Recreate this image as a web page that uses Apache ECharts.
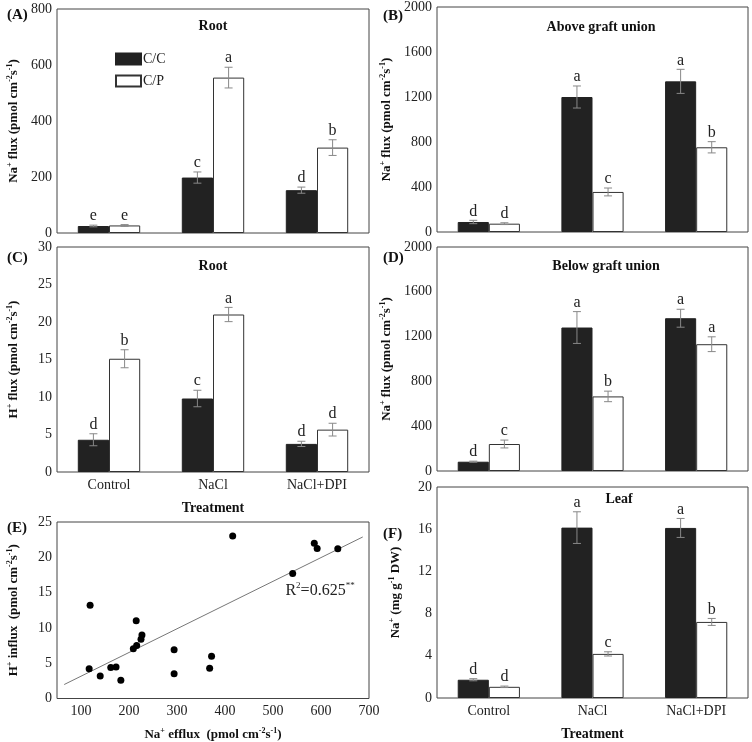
<!DOCTYPE html>
<html>
<head>
<meta charset="utf-8">
<script src="https://cdn.jsdelivr.net/npm/echarts@6/dist/echarts.min.js"></script>
<style>
  html, body { margin: 0; padding: 0; background: #fff; }
  #main { width: 752px; height: 742px; }
</style>
</head>
<body>
<div id="main"></div>
<script>
// categories
const treatments = ['Control', 'NaCl', 'NaCl+DPI'];

// (A) root Na+ flux
const rootNa_CC = [25, 198, 153];
const rootNa_CC_err = [3, 20, 11];
const rootNa_CC_sig = ['e', 'c', 'd'];
const rootNa_CP = [27, 555, 305];
const rootNa_CP_err = [3, 37, 28];
const rootNa_CP_sig = ['e', 'a', 'b'];

// (B) above graft union Na+ flux
const aboveNa_CC = [89, 1200, 1339];
const aboveNa_CC_err = [15, 98, 107];
const aboveNa_CC_sig = ['d', 'a', 'a'];
const aboveNa_CP = [74, 356, 753];
const aboveNa_CP_err = [8, 35, 50];
const aboveNa_CP_sig = ['d', 'c', 'b'];

// (C) root H+ flux
const rootH_CC = [4.3, 9.8, 3.75];
const rootH_CC_err = [0.8, 1.1, 0.35];
const rootH_CC_sig = ['d', 'c', 'd'];
const rootH_CP = [15.1, 21.0, 5.65];
const rootH_CP_err = [1.2, 0.95, 0.85];
const rootH_CP_sig = ['b', 'a', 'd'];

// (D) below graft union Na+ flux
const belowNa_CC = [83, 1281, 1364];
const belowNa_CC_err = [5, 142, 80];
const belowNa_CC_sig = ['d', 'a', 'a'];
const belowNa_CP = [241, 666, 1132];
const belowNa_CP_err = [35, 47, 66];
const belowNa_CP_sig = ['c', 'b', 'a'];

// (F) leaf Na+ content
const leafNa_CC = [1.73, 16.15, 16.12];
const leafNa_CC_err = [0.1, 1.5, 0.9];
const leafNa_CC_sig = ['d', 'a', 'a'];
const leafNa_CP = [1.06, 4.18, 7.21];
const leafNa_CP_err = [0.07, 0.2, 0.33];
const leafNa_CP_sig = ['d', 'c', 'b'];

// (E) Na+ efflux vs H+ influx
const naEfflux = [117, 119, 140, 162, 173, 183, 209, 215, 216, 225, 227, 294, 294, 368, 372, 416, 541, 586, 592, 635];
const hInflux = [4.2, 13.2, 3.2, 4.4, 4.45, 2.6, 7.05, 11.0, 7.5, 8.4, 9.0, 6.9, 3.5, 4.3, 6.0, 23.0, 17.7, 22.0, 21.25, 21.2];
const fitLine = [[65, 1.98], [687, 22.88]];

const SERIF = '"Liberation Serif", "Times New Roman", serif';
const DARK = '#222';
const ERR = '#888';

let chart = echarts.init(document.getElementById('main'));

let grids = [
    { left: 57, top: 9, width: 312, height: 224 },    // A
    { left: 437, top: 7, width: 311, height: 225 },   // B
    { left: 57, top: 247, width: 312, height: 225 },  // C
    { left: 437, top: 247, width: 311, height: 224 }, // D
    { left: 57, top: 522, width: 312, height: 182 },  // E
    { left: 437, top: 487, width: 311, height: 219 }  // F
];
grids.forEach(g => {
    g.show = true;
    g.borderColor = '#444';
    g.borderWidth = 1;
    g.containLabel = false;
});

let richName = {
    b: { fontFamily: SERIF, fontWeight: 'bold', fontSize: 13, color: '#111', lineHeight: 16 },
    s: { fontFamily: SERIF, fontWeight: 'bold', fontSize: 8, color: '#111', verticalAlign: 'top', lineHeight: 16 }
};

function plain(v) {
    return String(v);
}

function catAxis(gi, showLabels, name) {
    return {
        type: 'category',
        gridIndex: gi,
        data: treatments,
        axisLine: { show: false },
        axisTick: { show: false },
        axisLabel: { show: showLabels, fontFamily: SERIF, fontSize: 14, color: '#222', margin: 6 },
        name: name || '',
        nameLocation: 'middle',
        nameGap: 29,
        nameTextStyle: { fontFamily: SERIF, fontWeight: 'bold', fontSize: 14, color: '#111' }
    };
}

function valAxis(gi, max, interval, name, nameGap) {
    return {
        type: 'value',
        gridIndex: gi,
        min: 0,
        max: max,
        interval: interval,
        splitLine: { show: false },
        axisLine: { show: false },
        axisTick: { show: false },
        axisLabel: { fontFamily: SERIF, fontSize: 14, color: '#222', margin: 5, formatter: plain },
        name: name,
        nameLocation: 'middle',
        nameGap: nameGap,
        nameTextStyle: { rich: richName }
    };
}

const NA_FLUX = '{b|Na}{s|+}{b| flux (pmol cm}{s|-2}{b|s}{s|-1}{b|)}';
const H_FLUX = '{b|H}{s|+}{b| flux (pmol cm}{s|-2}{b|s}{s|-1}{b|)}';
const H_INFLUX = '{b|H}{s|+}{b| influx  (pmol cm}{s|-2}{b|s}{s|-1}{b|)}';
const NA_LEAF = '{b|Na}{s|+}{b| (mg g}{s|-1}{b| DW)}';

let xAxes = [
    catAxis(0, false),
    catAxis(1, false),
    catAxis(2, true, 'Treatment'),
    catAxis(3, false),
    {
        type: 'value',
        gridIndex: 4,
        min: 50,
        max: 700,
        splitLine: { show: false },
        axisLine: { show: false },
        axisTick: { show: false },
        axisLabel: { fontFamily: SERIF, fontSize: 14, color: '#222', margin: 6, formatter: plain,
            customValues: [100, 200, 300, 400, 500, 600, 700] },
        name: '{b|Na}{s|+}{b| efflux  (pmol cm}{s|-2}{b|s}{s|-1}{b|)}',
        nameLocation: 'middle',
        nameGap: 28,
        nameTextStyle: { rich: richName }
    },
    catAxis(5, true, 'Treatment')
];

let yAxes = [
    valAxis(0, 800, 200, NA_FLUX, 35),
    valAxis(1, 2000, 400, NA_FLUX, 42),
    valAxis(2, 30, 5, H_FLUX, 35),
    valAxis(3, 2000, 400, NA_FLUX, 42),
    valAxis(4, 25, 5, H_INFLUX, 35),
    valAxis(5, 20, 4, NA_LEAF, 33)
];

function barSeries(gi, name, vals, dark) {
    return {
        type: 'bar',
        name: name,
        xAxisIndex: gi,
        yAxisIndex: gi,
        data: vals,
        barWidth: '30%',
        barGap: '0%',
        itemStyle: dark ? { color: DARK, borderColor: DARK, borderWidth: 1 }
                        : { color: '#fff', borderColor: '#333', borderWidth: 1 },
        silent: true,
        z: 2
    };
}

function errSeries(gi, vals, errs, sig, side) {
    let data = vals.map((v, i) => [i, v, errs[i]]);
    return {
        type: 'custom',
        xAxisIndex: gi,
        yAxisIndex: gi,
        data: data,
        silent: true,
        z: 4,
        renderItem: function (params, api) {
            let i = api.value(0);
            let v = api.value(1);
            let e = api.value(2);
            let band = api.size([1, 0])[0];
            let c = api.coord([i, v]);
            let x = c[0] + side * band * 0.15;
            let yTop = api.coord([i, v + e])[1];
            let yBot = api.coord([i, v - e])[1];
            let cap = 4;
            return {
                type: 'group',
                children: [
                    { type: 'line', shape: { x1: x, y1: yTop, x2: x, y2: yBot }, style: { stroke: ERR, lineWidth: 1 } },
                    { type: 'line', shape: { x1: x - cap, y1: yTop, x2: x + cap, y2: yTop }, style: { stroke: ERR, lineWidth: 1 } },
                    { type: 'line', shape: { x1: x - cap, y1: yBot, x2: x + cap, y2: yBot }, style: { stroke: ERR, lineWidth: 1 } },
                    { type: 'text', x: x, y: yTop - 1,
                      style: { text: sig[params.dataIndex], fontFamily: SERIF, fontSize: 16, fill: '#222',
                               align: 'center', verticalAlign: 'bottom' } }
                ]
            };
        }
    };
}

function panelBars(gi, cc, ccErr, ccSig, cp, cpErr, cpSig) {
    return [
        barSeries(gi, 'C/C', cc, true),
        barSeries(gi, 'C/P', cp, false),
        errSeries(gi, cc, ccErr, ccSig, -1),
        errSeries(gi, cp, cpErr, cpSig, 1)
    ];
}

let series = [].concat(
    panelBars(0, rootNa_CC, rootNa_CC_err, rootNa_CC_sig, rootNa_CP, rootNa_CP_err, rootNa_CP_sig),
    panelBars(1, aboveNa_CC, aboveNa_CC_err, aboveNa_CC_sig, aboveNa_CP, aboveNa_CP_err, aboveNa_CP_sig),
    panelBars(2, rootH_CC, rootH_CC_err, rootH_CC_sig, rootH_CP, rootH_CP_err, rootH_CP_sig),
    panelBars(3, belowNa_CC, belowNa_CC_err, belowNa_CC_sig, belowNa_CP, belowNa_CP_err, belowNa_CP_sig),
    panelBars(5, leafNa_CC, leafNa_CC_err, leafNa_CC_sig, leafNa_CP, leafNa_CP_err, leafNa_CP_sig),
    [
        {
            type: 'line',
            xAxisIndex: 4,
            yAxisIndex: 4,
            data: fitLine,
            symbol: 'none',
            lineStyle: { color: '#777', width: 1 },
            silent: true,
            z: 2,
            markPoint: {
                symbol: 'rect',
                symbolSize: 0,
                data: [{ coord: [598, 15.3] }],
                label: {
                    show: true,
                    position: 'inside',
                    formatter: '{n|R}{s|2}{n|=0.625}{s|**}',
                    rich: {
                        n: { fontFamily: SERIF, fontSize: 16, color: '#222', lineHeight: 18 },
                        s: { fontFamily: SERIF, fontSize: 9, color: '#222', verticalAlign: 'top', lineHeight: 18 }
                    }
                }
            }
        },
        {
            type: 'scatter',
            xAxisIndex: 4,
            yAxisIndex: 4,
            data: naEfflux.map((x, i) => [x, hInflux[i]]),
            symbolSize: 7,
            itemStyle: { color: '#000', opacity: 1 },
            silent: true,
            z: 3
        }
    ]
);

function panelTitle(text, x, y) {
    return { text: text, left: x, top: y, textAlign: 'center',
        textStyle: { fontFamily: SERIF, fontWeight: 'bold', fontSize: 14, color: '#111' } };
}
function panelLabel(text, x, y) {
    return { text: text, left: x, top: y,
        textStyle: { fontFamily: SERIF, fontWeight: 'bold', fontSize: 15, color: '#111' } };
}

let option = {
    animation: false,
    backgroundColor: '#fff',
    title: [
        panelTitle('Root', 208, 14),
        panelTitle('Above graft union', 596, 15),
        panelTitle('Root', 208, 254),
        panelTitle('Below graft union', 601, 254),
        panelTitle('Leaf', 614, 487),
        panelLabel('(A)', 2, 3),
        panelLabel('(B)', 378, 4),
        panelLabel('(C)', 2, 246),
        panelLabel('(D)', 378, 246),
        panelLabel('(E)', 2, 516),
        panelLabel('(F)', 378, 522)
    ],
    legend: {
        data: [
            { name: 'C/C', icon: 'rect' },
            { name: 'C/P', icon: 'rect' }
        ],
        orient: 'vertical',
        left: 110,
        top: 47,
        itemWidth: 25,
        itemHeight: 11,
        itemGap: 8,
        selectedMode: false,
        textStyle: { fontFamily: SERIF, fontSize: 14, color: '#222', padding: [0, 0, 0, -3] }
    },
    grid: grids,
    xAxis: xAxes,
    yAxis: yAxes,
    series: series
};

chart.setOption(option);
</script>
</body>
</html>
